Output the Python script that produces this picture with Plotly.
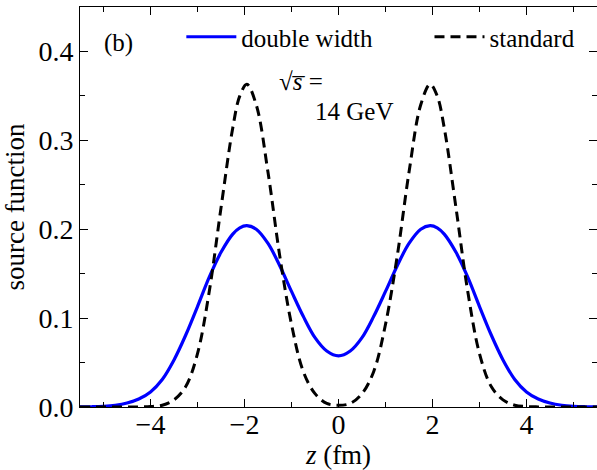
import plotly.graph_objects as go

# z positions (fm)
z = [-5.5, -5.25, -5.0, -4.75, -4.5, -4.25, -4.0, -3.75, -3.5, -3.25, -3.0,
     -2.75, -2.5, -2.25, -2.1, -1.95, -1.75, -1.5, -1.25, -1.0, -0.75, -0.5,
     -0.25, 0.0, 0.25, 0.5, 0.75, 1.0, 1.25, 1.5, 1.75, 1.95, 2.1, 2.25, 2.5,
     2.75, 3.0, 3.25, 3.5, 3.75, 4.0, 4.25, 4.5, 4.75, 5.0, 5.25, 5.5]

# double width source function (blue solid)
double_width = [0.0001, 0.0003, 0.0008, 0.002, 0.0045, 0.009, 0.017, 0.031, 0.053, 0.081, 0.113,
                0.146, 0.174, 0.1945, 0.2016, 0.204, 0.200, 0.184, 0.159, 0.130, 0.102, 0.078,
                0.063, 0.0575, 0.063, 0.078, 0.102, 0.130, 0.159, 0.184, 0.200, 0.204, 0.2016,
                0.1945, 0.174, 0.146, 0.113, 0.081, 0.053, 0.031, 0.017, 0.009, 0.0045, 0.002,
                0.0008, 0.0003, 0.0001]

# standard source function (black dashed)
standard = [0.0, 0.0, 0.0, 0.0, 0.0, 0.0001, 0.0005, 0.002, 0.008, 0.023, 0.060,
            0.130, 0.224, 0.314, 0.350, 0.363, 0.340, 0.264, 0.170, 0.093, 0.040, 0.015,
            0.004, 0.002, 0.004, 0.015, 0.040, 0.093, 0.170, 0.264, 0.340, 0.363, 0.350,
            0.314, 0.224, 0.130, 0.060, 0.023, 0.008, 0.002, 0.0005, 0.0001, 0.0, 0.0,
            0.0, 0.0, 0.0]

FONT = "Liberation Serif"

fig = go.Figure()
fig.add_trace(go.Scatter(
    x=z, y=double_width, mode="lines", name="double width", legend="legend",
    line=dict(color="#0000ff", width=3.2, shape="spline", smoothing=1.0),
))
fig.add_trace(go.Scatter(
    x=z, y=standard, mode="lines", name="standard", legend="legend2",
    line=dict(color="black", width=3, dash="10px,6px", shape="spline", smoothing=1.0),
))

axis_common = dict(
    showline=True, linecolor="black", linewidth=1, mirror="allticks",
    ticks="inside", ticklen=8, tickwidth=1, tickcolor="black",
    showgrid=False, zeroline=False, automargin=False,
    tickfont=dict(family=FONT, size=28, color="black"),
)

fig.update_xaxes(
    range=[-5.5, 5.5], dtick=2, tick0=0, ticklabelstandoff=-8,
    minor=dict(dtick=1, ticks="inside", ticklen=5, tickcolor="black", showgrid=False),
    title=dict(text="<i>z</i> (fm)", font=dict(family=FONT, size=27, color="black"), standoff=0),
    **axis_common,
)
fig.update_yaxes(
    range=[0, 0.45], dtick=0.1, tick0=0, tickformat=".1f",
    minor=dict(dtick=0.05, ticks="inside", ticklen=5, tickcolor="black", showgrid=False),
    title=dict(text="source function", font=dict(family=FONT, size=27, color="black"), standoff=6),
    **axis_common,
)

fig.add_annotation(text="(b)", xref="paper", yref="paper", x=0.0426, y=0.91,
                   xanchor="left", yanchor="middle", showarrow=False,
                   font=dict(family=FONT, size=25, color="black"))
fig.add_annotation(text="√<i>s\u0305</i> =",
                   xref="paper", yref="paper", x=0.381, y=0.815,
                   xanchor="left", yanchor="middle", showarrow=False,
                   font=dict(family=FONT, size=25, color="black"))
fig.add_annotation(text="14 GeV", xref="paper", yref="paper", x=0.4507, y=0.7375,
                   xanchor="left", yanchor="middle", showarrow=False,
                   font=dict(family=FONT, size=25, color="black"))

legend_common = dict(orientation="h", xanchor="left", yanchor="middle",
                     bgcolor="rgba(0,0,0,0)", borderwidth=0,
                     font=dict(family=FONT, size=25, color="black"),
                     itemwidth=50)

fig.update_layout(
    width=597, height=470,
    margin=dict(l=80, r=0, t=7, b=63, autoexpand=False),
    paper_bgcolor="white", plot_bgcolor="white",
    showlegend=True,
    legend=dict(x=0.196, y=0.925, **legend_common),
    legend2=dict(x=0.676, y=0.925, **legend_common),
)

fig.write_html("out.html", config={"displayModeBar": False},
               post_script="document.body.style.margin='0px';document.body.style.padding='0px';")
